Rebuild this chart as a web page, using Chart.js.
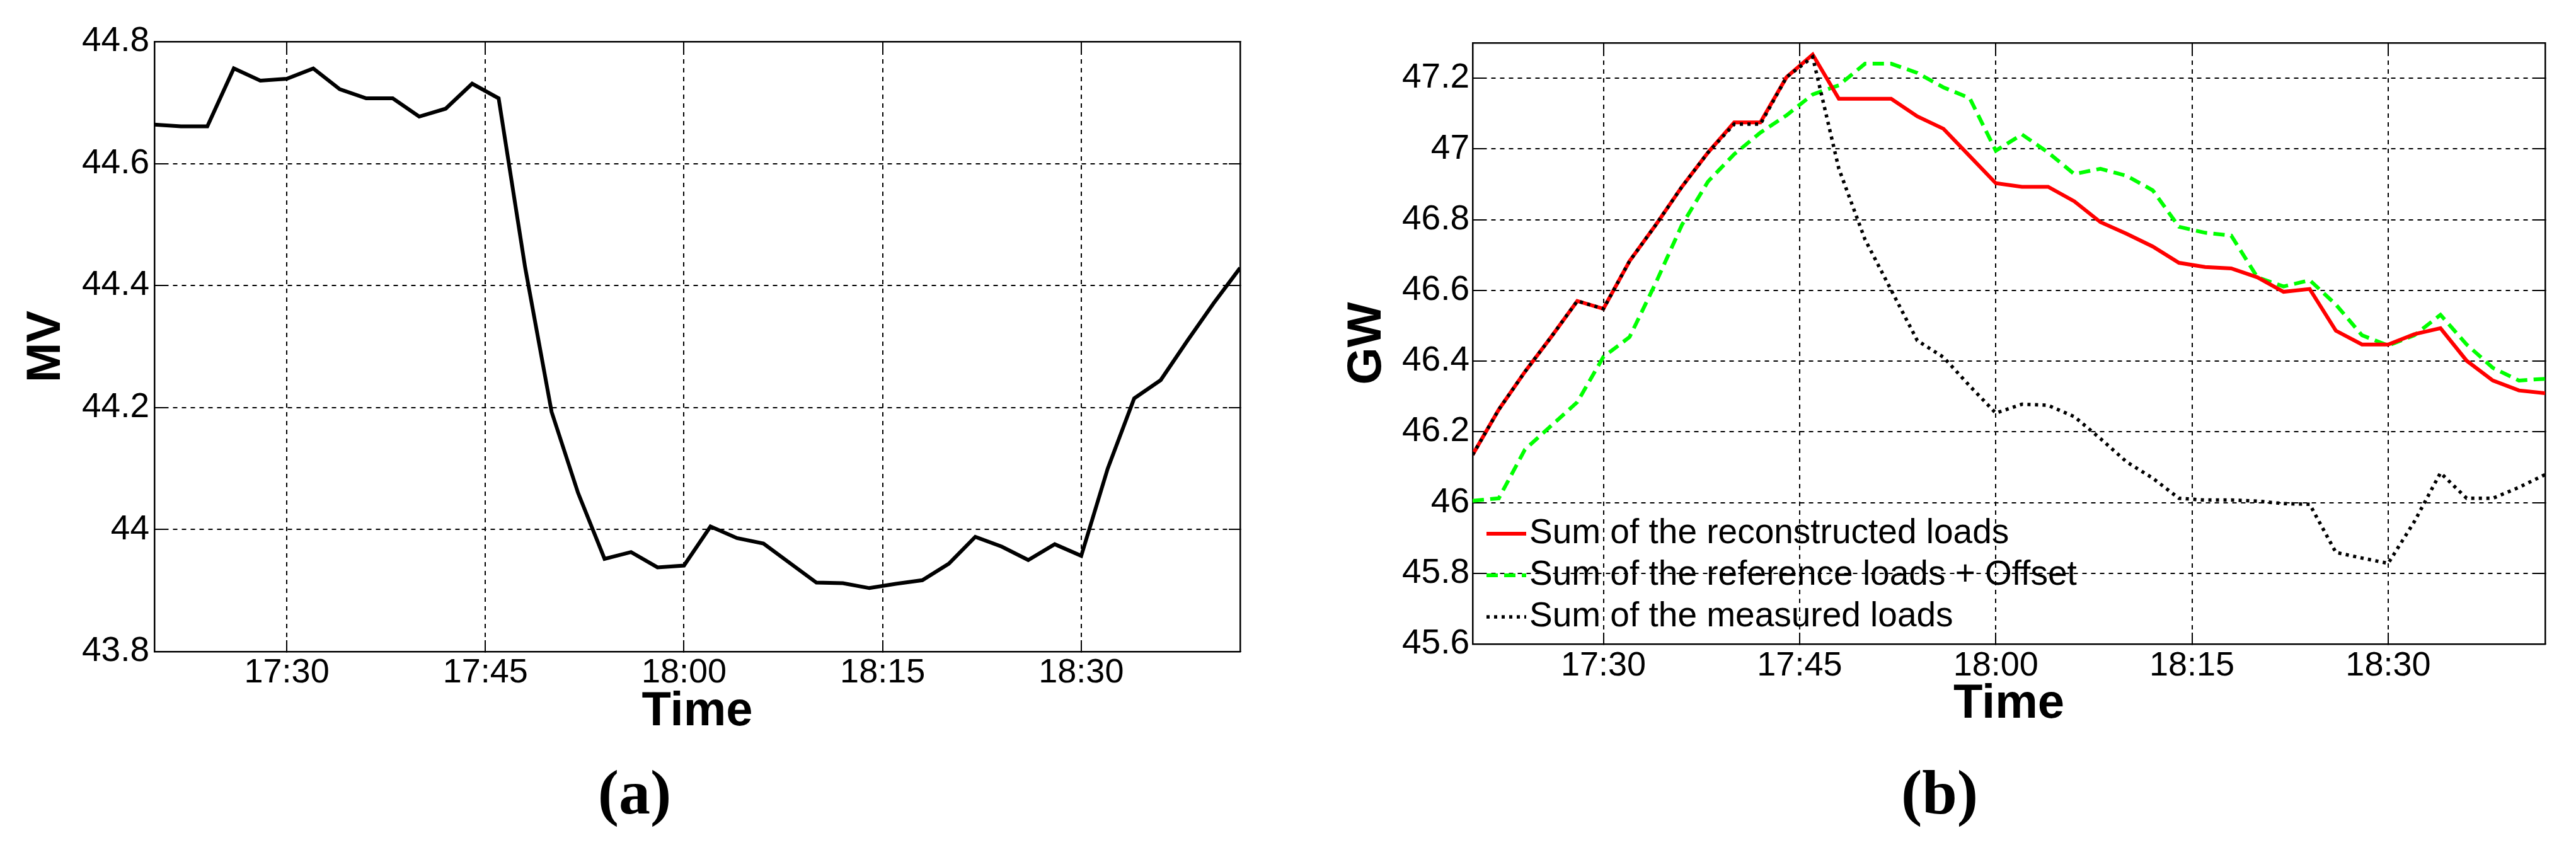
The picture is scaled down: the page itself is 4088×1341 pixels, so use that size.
<!DOCTYPE html>
<html><head><meta charset="utf-8">
<script src="https://cdn.jsdelivr.net/npm/chart.js@4"></script>
<style>
html,body{margin:0;padding:0;background:#fff;}
body{width:4088px;height:1341px;position:relative;overflow:hidden;}
.pane{position:absolute;top:0;width:2044px;height:1200px;}
.cap{position:absolute;width:400px;text-align:center;font-family:'Liberation Serif','Times New Roman',serif;font-weight:bold;font-size:100px;line-height:100px;top:1208px;color:#000;}
</style></head><body>
<div class="pane" style="left:0"><canvas id="c1"></canvas></div>
<div class="pane" style="left:2044px"><canvas id="c2"></canvas></div>
<div class="cap" style="left:807px">(a)</div>
<div class="cap" style="left:2878px">(b)</div>
<script>
// ---- data ----
const times = ["17:20","17:22","17:24","17:26","17:28","17:30","17:32","17:34","17:36","17:38",
  "17:40","17:42","17:44","17:46","17:48","17:50","17:52","17:54","17:56","17:58",
  "18:00","18:02","18:04","18:06","18:08","18:10","18:12","18:14","18:16","18:18",
  "18:20","18:22","18:24","18:26","18:28","18:30","18:32","18:34","18:36","18:38","18:40","18:42"];
const xTickLabels = ["17:30","17:45","18:00","18:15","18:30"];
const mvValues = [44.664,44.661,44.661,44.756,44.736,44.739,44.756,44.722,44.707,44.707,
  44.677,44.690,44.731,44.707,44.430,44.193,44.060,43.952,43.963,43.938,
  43.941,44.005,43.986,43.977,43.945,43.913,43.912,43.904,43.911,43.917,
  43.944,43.988,43.972,43.950,43.976,43.957,44.100,44.215,44.245,44.309,44.371,44.429];
const reconstructed = [46.135,46.263,46.370,46.468,46.570,46.548,46.683,46.785,46.893,46.990,
  47.075,47.075,47.203,47.267,47.142,47.142,47.142,47.092,47.057,46.980,
  46.903,46.893,46.893,46.852,46.793,46.760,46.724,46.678,46.666,46.662,
  46.637,46.596,46.604,46.486,46.447,46.447,46.476,46.493,46.401,46.345,46.317,46.309];
const referenceOffset = [46.005,46.012,46.150,46.217,46.284,46.412,46.468,46.621,46.785,46.908,
  46.985,47.046,47.095,47.154,47.180,47.241,47.241,47.215,47.174,47.144,
  46.995,47.041,46.990,46.929,46.944,46.924,46.883,46.780,46.763,46.755,
  46.637,46.611,46.629,46.560,46.473,46.444,46.473,46.531,46.447,46.381,46.345,46.350];
const measured = [46.135,46.263,46.370,46.468,46.570,46.548,46.683,46.785,46.893,46.990,
  47.070,47.070,47.203,47.260,46.944,46.744,46.601,46.458,46.411,46.330,
  46.253,46.278,46.275,46.243,46.181,46.115,46.069,46.012,46.007,46.007,
  46.004,45.997,45.995,45.859,45.843,45.828,45.946,46.084,46.012,46.012,46.043,46.079];
const mvTicks = [43.8,44.0,44.2,44.4,44.6,44.8];
const gwTicks = [45.6,45.8,46.0,46.2,46.4,46.6,46.8,47.0,47.2];
const legendLabels = ["Sum of the reconstructed loads","Sum of the reference loads + Offset","Sum of the measured loads"];

// ---- helpers ----
const toMin = s => { const p = s.split(':').map(Number); return p[0]*60 + p[1]; };
const fmtMin = v => Math.floor(v/60) + ':' + String(Math.round(v%60)).padStart(2,'0');
const fmtNum = v => String(+(+v).toFixed(1));
const pts = vals => vals.map((v,i) => ({x: toMin(times[i]), y: v}));
const SANS = "'Liberation Sans', Arial, Helvetica, sans-serif";

Chart.defaults.font.family = SANS;
Chart.defaults.color = '#000';

const insideLegend = {
  id: 'insideLegend',
  afterDatasetsDraw(chart, args, opts) {
    if (!opts || !opts.rows) return;
    const ctx = chart.ctx, a = chart.chartArea;
    ctx.save();
    chart.data.datasets.forEach((ds, i) => {
      const y = a.bottom - opts.rows[i];
      ctx.beginPath();
      ctx.strokeStyle = ds.borderColor;
      ctx.lineWidth = ds.borderWidth;
      ctx.setLineDash(ds.borderDash || []);
      ctx.moveTo(a.left + opts.x0, y);
      ctx.lineTo(a.left + opts.x1, y);
      ctx.stroke();
      ctx.setLineDash([]);
      ctx.fillStyle = '#000';
      ctx.font = opts.font;
      ctx.textAlign = 'left';
      ctx.textBaseline = 'middle';
      ctx.fillText(ds.label, a.left + opts.tx, y);
    });
    ctx.restore();
  }
};

function gridOpts(onArea) {
  return {
    display: true, drawOnChartArea: onArea, color: '#000', lineWidth: 2,
    drawTicks: true, tickLength: -18, tickColor: '#000',
    tickWidth: 2, tickBorderDash: []
  };
}
const borderOpts = {display: true, color: '#000', width: 2.5, dash: [7,7]};

function makeChart(id, datasets, yTicks, yMin, yMax, yTitle, L) {
  const xMin = toMin(times[0]), xMax = toMin(times[times.length-1]);
  const xTickVals = xTickLabels.map(toMin);
  const setX = s => { s.ticks = xTickVals.map(v => ({value: v})); };
  const setY = s => { s.ticks = yTicks.map(v => ({value: v})); };
  return new Chart(document.getElementById(id), {
    type: 'line',
    data: {datasets},
    options: {
      animation: false, responsive: true, maintainAspectRatio: false, devicePixelRatio: 1,
      layout: {padding: {left: 0, top: L.top, right: L.right, bottom: 0}},
      elements: {point: {radius: 0}, line: {tension: 0}},
      plugins: {legend: {display: false}, tooltip: {enabled: false}, insideLegend: L.legend || {}},
      scales: {
        x: {
          type: 'linear', position: 'bottom', min: xMin, max: xMax,
          afterBuildTicks: setX,
          afterFit: s => { s.height = L.xHeight; },
          grid: gridOpts(true), border: borderOpts,
          ticks: {padding: L.xPad + 18, callback: v => fmtMin(v), font: {size: 54}, maxRotation: 0, autoSkip: false},
          title: {display: true, text: 'Time', font: {size: 76, weight: 'bold'}, padding: {top: 0, bottom: L.xTitlePad}}
        },
        x2: {
          type: 'linear', position: 'top', min: xMin, max: xMax,
          afterBuildTicks: setX,
          afterFit: s => { s.height = 0; },
          grid: gridOpts(false), border: borderOpts,
          ticks: {display: false}
        },
        y: {
          type: 'linear', position: 'left', min: yMin, max: yMax,
          afterBuildTicks: setY,
          afterFit: s => { s.width = L.yWidth; },
          grid: gridOpts(true), border: borderOpts,
          ticks: {padding: L.yPad + 18, callback: v => fmtNum(v), font: {size: 55}, autoSkip: false},
          title: {display: true, text: yTitle, font: {size: 76, weight: 'bold'}, padding: {top: L.yTitlePad, bottom: 0}}
        },
        y2: {
          type: 'linear', position: 'right', min: yMin, max: yMax,
          afterBuildTicks: setY,
          afterFit: s => { s.width = 0; },
          grid: gridOpts(false), border: borderOpts,
          ticks: {display: false}
        }
      }
    },
    plugins: [insideLegend]
  });
}

makeChart('c1', [
  {label: 'MV', data: pts(mvValues), borderColor: '#000', borderWidth: 6, fill: false}
], mvTicks, 43.8, 44.8, 'MV',
  {top: 66, right: 76, yWidth: 245, xHeight: 166, xPad: 2, yPad: 8, xTitlePad: 24, yTitlePad: 28});

makeChart('c2', [
  {label: legendLabels[0], data: pts(reconstructed), borderColor: '#ff0000', borderWidth: 6, order: 1, fill: false},
  {label: legendLabels[1], data: pts(referenceOffset), borderColor: '#00ff00', borderWidth: 6, borderDash: [18,10], order: 2, fill: false},
  {label: legendLabels[2], data: pts(measured), borderColor: '#000', borderWidth: 5.5, borderDash: [5,7], order: 0, fill: false}
], gwTicks, 45.6, 47.3, 'GW',
  {top: 68, right: 49, yWidth: 293, xHeight: 178, xPad: 3, yPad: 5, xTitlePad: 36, yTitlePad: 80,
   legend: {rows: [175, 109, 43], x0: 22, x1: 85, tx: 90, font: "55px " + SANS}});
</script>
</body></html>
